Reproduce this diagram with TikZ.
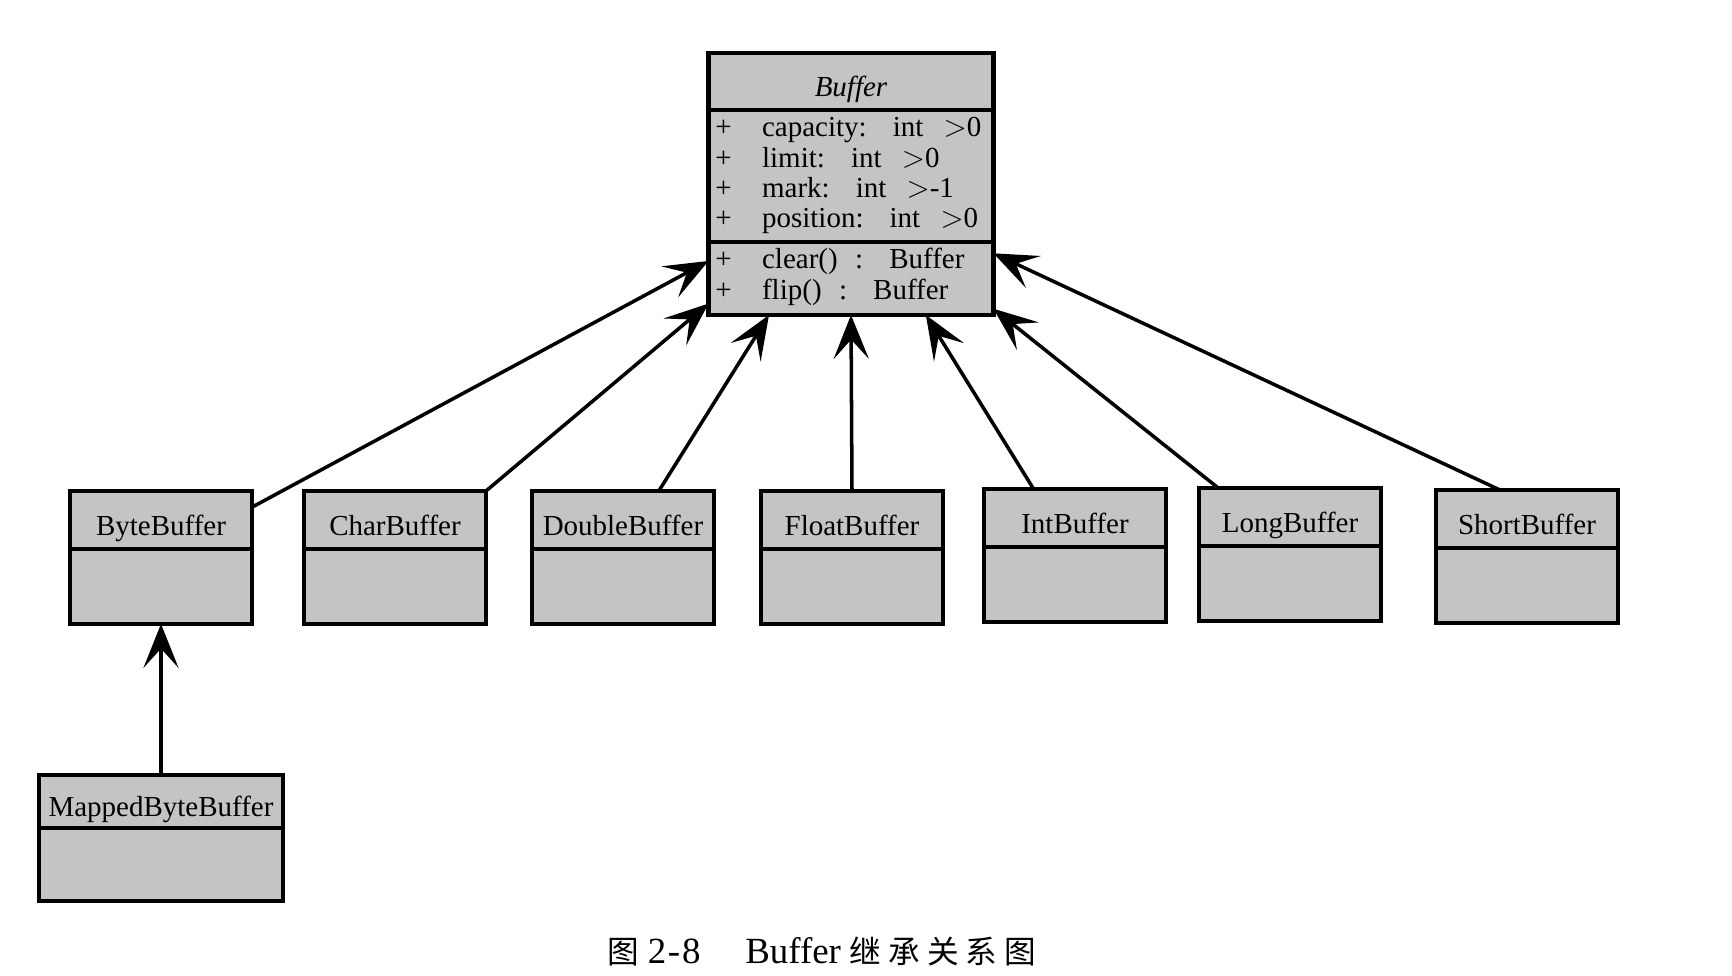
\documentclass[tikz,border=0pt]{standalone}
\usepackage{fontspec}
\setmainfont{Liberation Serif}
\newfontfamily\cjk{Noto Sans CJK SC}
\usepackage{tikz}
\usetikzlibrary{positioning}
\usetikzlibrary{arrows.meta}
\definecolor{boxgray}{HTML}{C4C4C4}
\newcommand{\clsfont}{\fontsize{16.5}{18}\selectfont}
\newcommand{\capfont}{\fontsize{21}{24}\selectfont}
\newcommand{\cjkfont}{\cjk\fontsize{18}{20}\selectfont}
\newcommand{\plus}{\makebox[26.6pt][l]{+}}

\begin{document}
\begin{tikzpicture}[x=0.02cm, y=-0.02cm,
  clshead/.style={draw, fill=boxgray, line width=2.5pt, outer sep=0pt, inner sep=0pt, minimum width=3.64cm, minimum height=1.16cm, text height=17.6pt, text depth=0pt, font=\clsfont},
  clsbody/.style={draw, fill=boxgray, line width=2.5pt, outer sep=0pt, inner sep=0pt, minimum width=3.64cm, minimum height=1.5cm},
  member/.style={anchor=base west, inner sep=0pt, font=\clsfont},
  inherit/.style={-{Stealth[length=25pt, width=20pt, inset=11pt]}, line width=2pt}]

\useasboundingbox (0,0) rectangle (1732,976);

% BUFFER
% class name
\node[clshead, minimum width=5.7cm, minimum height=1.14cm, font=\clsfont\itshape] (buf) at (851,81.5) {Buffer};
% attributes
\node[clsbody, minimum width=5.7cm, minimum height=2.64cm, below=0pt of buf] (bufattr) {};
\node[member] (capacity) at (715,137) {\plus capacity:\hspace{0.9em}int\hspace{0.7em}$>$0};
\node[member] (limit) at (715,168) {\plus limit:\hspace{0.9em}int\hspace{0.7em}$>$0};
\node[member] (mark) at (715,198) {\plus mark:\hspace{0.9em}int\hspace{0.7em}$>$-1};
\node[member] (position) at (715,228) {\plus position:\hspace{0.9em}int\hspace{0.7em}$>$0};
% methods
\node[clsbody, minimum width=5.7cm, minimum height=1.46cm, below=0pt of bufattr] (bufmeth) {};
\node[member] (clear) at (715,269) {\plus clear()\hspace{0.6em}:\hspace{0.9em}Buffer};
\node[member] (flip) at (715,300) {\plus flip()\hspace{0.6em}:\hspace{0.9em}Buffer};

% SUBCLASSES
\node[clshead] (byte) at (161,520) {ByteBuffer};
\node[clsbody, below=0pt of byte] (byteb) {};
\node[clshead] (char) at (395,520) {CharBuffer};
\node[clsbody, below=0pt of char] (charb) {};
\node[clshead] (double) at (623,520) {DoubleBuffer};
\node[clsbody, below=0pt of double] (doubleb) {};
\node[clshead] (float) at (852,520) {FloatBuffer};
\node[clsbody, below=0pt of float] (floatb) {};
\node[clshead] (int) at (1075,518) {IntBuffer};
\node[clsbody, below=0pt of int] (intb) {};
\node[clshead] (long) at (1290,517) {LongBuffer};
\node[clsbody, below=0pt of long] (longb) {};
\node[clshead] (short) at (1527,519) {ShortBuffer};
\node[clsbody, below=0pt of short] (shortb) {};

% MAPPED BUFFER
\node[clshead, minimum width=4.88cm, minimum height=1.06cm] (mapped) at (161,801.5) {MappedByteBuffer};
\node[clsbody, minimum width=4.88cm, minimum height=1.46cm, below=0pt of mapped] (mappedb) {};

% INHERITANCE
\draw[inherit] (byte.8) -- (bufmeth.173);
\draw[inherit] (char.north east) -- (bufmeth.190);
\draw[inherit] (double.39) -- (bufmeth.204);
\draw[inherit] (float.north) -- (bufmeth.south);
\draw[inherit] (int.145) -- (bufmeth.334);
\draw[inherit] (long.158) -- (bufmeth.348);
\draw[inherit] (short.133) -- (bufmeth.10);
\draw[inherit] (mapped.north) -- (byteb.south);

% CAPTION
\node[anchor=base west, inner sep=0pt, font=\capfont] (capnum) at (607,963) {{\cjkfont 图}\hspace{5pt}2\hspace{1pt}-\hspace{1pt}8};
\node[anchor=base west, inner sep=0pt, font=\capfont] (captxt) at (745,963) {Buffer\hspace{5pt}{\cjkfont 继\hspace{4pt}承\hspace{4pt}关\hspace{4pt}系\hspace{4pt}图}};

\end{tikzpicture}
\end{document}
